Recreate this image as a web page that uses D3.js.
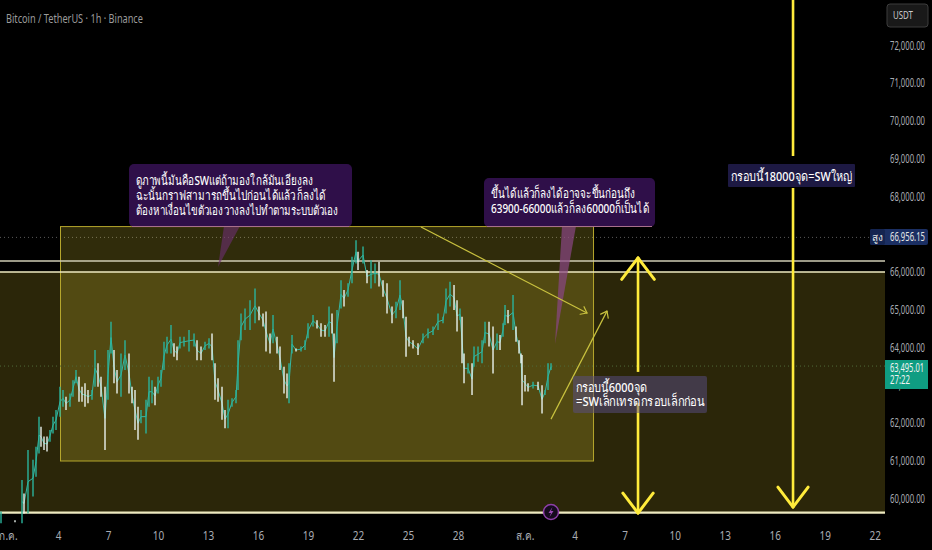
<!DOCTYPE html>
<html lang="th">
<head>
<meta charset="utf-8">
<title>Bitcoin / TetherUS</title>
<script src="https://cdn.jsdelivr.net/npm/d3@7"></script>
<style>
html, body { margin: 0; padding: 0; background: #000; }
svg { display: block; }
text { font-family: "Noto Sans", "Noto Sans CJK SC", sans-serif; }
.axis path, .axis line { display: none; }
.axis text { fill: #a9acb3; font-size: 12.5px; }
</style>
</head>
<body>
<script>
// days counted from 1 Jul = 1, so 1 Aug = 32
let barDay = [0.58,1.42,1.84,1.96,2.2,2.5,2.68,2.86,2.98,3.16,3.34,3.52,3.7,3.88,4.12,4.3,4.48,4.72,4.9,5.08,5.26,5.44,5.62,5.8,6.04,6.22,6.4,6.58,6.82,7,7.18,7.36,7.54,7.78,8.02,8.26,8.44,8.62,8.8,8.98,9.28,9.46,9.64,9.82,10,10.18,10.36,10.54,10.78,10.96,11.14,11.32,11.56,11.86,12.16,12.34,12.58,12.82,13.06,13.24,13.42,13.6,13.84,14.02,14.2,14.44,14.68,14.8,14.98,15.22,15.52,15.82,16.06,16.3,16.48,16.72,16.9,17.14,17.32,17.56,17.74,17.86,18.04,18.28,18.58,18.82,19,19.3,19.54,19.78,20.02,20.26,20.44,20.56,20.74,20.98,21.16,21.4,21.64,21.88,22,22.3,22.54,22.78,23.02,23.26,23.5,23.74,24.04,24.28,24.52,24.7,24.88,25.06,25.3,25.6,25.9,26.2,26.5,26.8,27.1,27.28,27.52,27.76,27.94,28.12,28.24,28.36,28.6,28.84,28.96,29.2,29.44,29.62,29.86,30.1,30.34,30.52,30.7,30.82,31,31.3,31.48,31.66,31.78,31.84,32.02,32.2,32.5,32.8,33.04,33.22,33.4,33.58];
let barHigh = [59640,59410,60480,60120,61270,61010,61360,62150,61890,61630,61630,61800,62150,62330,62950,62860,62680,62770,63120,63390,63210,62950,63040,62860,62860,63920,63570,63210,62950,63920,64670,63920,63390,63830,64180,63830,62950,62860,62420,62330,62600,63210,63120,62950,63210,63390,64140,64270,64580,64100,64010,64270,64270,64450,64360,64180,64010,64140,64230,64360,63570,63170,62950,62330,62600,62640,62860,64180,64890,65020,65240,65550,65070,64890,64940,64360,64850,64270,64010,63480,63300,63570,64320,63960,64010,64180,64630,64850,64710,64630,64580,65070,64890,64360,64980,65770,65510,65690,66390,66830,66520,66660,66040,66300,66210,66260,65770,65690,65070,65200,65770,65240,64800,64270,64180,64100,64360,64490,64540,64890,64800,65550,65730,65640,65240,65020,64800,63830,63570,63570,64010,64010,64180,64670,64670,64540,64360,64320,64630,65110,64980,65380,64540,64180,63830,63790,63260,63040,63080,63080,62990,62860,63570,63570];
let barLow = [59330,59360,59330,59590,59590,60040,60560,61180,61360,61270,61230,61490,61710,61800,62150,62420,62330,62420,62680,63040,62550,62550,62420,62510,62600,62950,62950,62680,61270,62600,63830,63040,62770,62680,63390,62770,62510,61800,61540,61980,61710,62420,62510,62460,62770,62950,63390,63830,63830,63740,63650,63960,64010,63880,64010,63650,63650,63920,63960,63650,62600,62550,62070,61850,61850,62420,62510,62860,64180,64450,64450,64630,64710,64540,63880,63830,64100,63830,63390,62770,62640,62510,63830,63880,63880,63920,64230,64540,64490,64270,64270,64270,64360,63080,64100,65020,65070,65330,65690,66210,66040,66210,65690,65550,65690,65600,65330,64890,64630,64760,64980,64760,63740,64010,63960,63790,64100,64230,64320,64450,64630,64890,65070,64980,64410,64710,63570,63040,63300,62730,63480,63610,63570,64100,64010,63300,63920,63920,64270,64580,64630,64450,64140,63830,63570,62460,62820,62820,62900,62860,62240,62730,62860,63390];

let priceTicks = [72000,71000,70000,69000,68000,67000,66000,65000,64000,63000,62000,61000,60000];
let dayTicks = [1,4,7,10,13,16,19,22,25,28,32,35,38,41,44,47,50,53];
let dayLabels = ["ก.ค.","4","7","10","13","16","19","22","25","28","ส.ค.","4","7","10","13","16","19","22"];

let levelLines = [66280,65990,59610];
let highPrice = 66956.15;
let lastPrice = 63495.01;
let countdown = "27:22";

let w = 932, h = 550;
let plotRight = 885;

let x = d3.scaleLinear().domain([1,53]).range([8,874.7]);
let y = d3.scaleLinear().domain([60000,72000]).range([498,45]);

let svg = d3.select("body").append("svg").attr("width",w).attr("height",h);
svg.append("rect").attr("width",w).attr("height",h).attr("fill","#000");

let defs = svg.append("defs");
defs.append("filter").attr("id","soft").append("feGaussianBlur").attr("stdDeviation",0.35);

// squeeze a text sideways to a wanted width, the chart's font is a narrow one
function fit(node,px,width) {
    let s = width/node.getComputedTextLength();
    d3.select(node).attr("transform","translate("+px+",0) scale("+s+",1) translate("+(-px)+",0)");
}

// big range, dark olive
svg.append("rect")
    .attr("x",0).attr("width",plotRight)
    .attr("y",y(levelLines[1])).attr("height",y(levelLines[2])-y(levelLines[1]))
    .attr("fill","#2b2609");

// dotted guides
svg.append("line").attr("x1",0).attr("x2",870).attr("y1",y(highPrice)+2).attr("y2",y(highPrice)+2)
    .attr("stroke","#5a5a5a").attr("stroke-dasharray","1 3");

// small range box
let boxDays = [4.15,36.13], boxPrices = [67190,60980];
svg.append("rect")
    .attr("x",x(boxDays[0])).attr("width",x(boxDays[1])-x(boxDays[0]))
    .attr("y",y(boxPrices[0])).attr("height",y(boxPrices[1])-y(boxPrices[0]))
    .attr("fill","rgba(255,235,59,0.19)").attr("stroke","#b5a62c").attr("stroke-width",1);

svg.append("line").attr("x1",0).attr("x2",plotRight).attr("y1",y(lastPrice)).attr("y2",y(lastPrice))
    .attr("stroke","#4f6b3a").attr("stroke-dasharray","1 3");

// level lines
svg.selectAll(".level").data(levelLines).enter().append("line")
    .attr("class","level")
    .attr("x1",0).attr("x2",plotRight)
    .attr("y1",d=>y(d)).attr("y2",d=>y(d))
    .attr("stroke",(d,i)=> i==0 ? "#cfcdb4" : "#eeeac0")
    .attr("stroke-width",(d,i)=> i==2 ? 2.2 : 1.5);

// callout wedges, then boxes
svg.append("path").attr("d","M224,226L240,226L218,267Z").attr("fill","#6d2f72").attr("opacity",0.6);
svg.append("path").attr("d","M562,226L576,226L555,344Z").attr("fill","#8a4684").attr("opacity",0.7);

function callout(x0,y0,bw,bh,fill) {
    svg.append("rect").attr("x",x0).attr("y",y0).attr("width",bw).attr("height",bh).attr("rx",5).attr("fill",fill);
    svg.append("line").attr("x1",x0+3).attr("x2",x0+bw-3).attr("y1",y0+bh-0.5).attr("y2",y0+bh-0.5)
        .attr("stroke","#a8708c").attr("stroke-width",1);
}
callout(129,164,223,63,"#2f0f49");
callout(484,178,171,49,"#2f0f49");

// candles
let bars = barDay.map((d,i)=> ({day:d, hi:barHigh[i], lo:barLow[i]}));
let mid = d => (d.hi+d.lo)/2;
let candles = svg.append("g").attr("filter","url(#soft)");
candles.append("path").attr("fill","none").attr("stroke","#35b8a4").attr("stroke-width",1)
    .attr("d",d3.line().x(d=>x(d.day)).y(d=>y(mid(d)))(bars.slice(2)));
candles.selectAll("line").data(bars).enter().append("line")
    .attr("x1",d=>x(d.day)).attr("x2",d=>x(d.day))
    .attr("y1",d=>y(d.hi)).attr("y2",d=>y(d.lo))
    .attr("stroke",(d,i)=> (i==0 || mid(d)>=mid(bars[i-1])) ? "#2bb39c" : "#eaf3ee")
    .attr("stroke-width",1.4);

// thin diagonal arrows
let diagArrows = [
    {d0:25.78,p0:67180,d1:35.74,p1:64900},
    {d0:33.58,p0:62090,d1:36.94,p1:64950}
];
function head(px,py,fromx,fromy,len,spread,color,sw) {
    let a = Math.atan2(fromy-py,fromx-px);
    [a-spread,a+spread].forEach(t=>{
        svg.append("line").attr("x1",px).attr("y1",py)
            .attr("x2",px+len*Math.cos(t)).attr("y2",py+len*Math.sin(t))
            .attr("stroke",color).attr("stroke-width",sw).attr("stroke-linecap","round");
    });
}
diagArrows.forEach(a=>{
    svg.append("line").attr("x1",x(a.d0)).attr("y1",y(a.p0)).attr("x2",x(a.d1)).attr("y2",y(a.p1))
        .attr("stroke","#c9c23f").attr("stroke-width",1.2);
    head(x(a.d1),y(a.p1),x(a.d0),y(a.p0),7,0.65,"#c9c23f",1.2);
});

// thick vertical arrows, each broken behind its label
let yellow = "#ffeb3b";
let v1 = {day:38.8, top:66360, bottom:59600, gap:[63340,62520]};
let v2 = {day:48.1, top:73500, bottom:59760, gap:[69060,68210]};
[v1,v2].forEach(v=>{
    [[v.top,v.gap[0]],[v.gap[1],v.bottom]].forEach(s=>{
        svg.append("line").attr("x1",x(v.day)).attr("x2",x(v.day))
            .attr("y1",y(s[0])).attr("y2",y(s[1]))
            .attr("stroke",yellow).attr("stroke-width",2.6);
    });
    head(x(v.day),y(v.bottom),x(v.day),0,25,0.65,yellow,3);
});
head(x(v1.day),y(v1.top),x(v1.day),h,27,0.65,yellow,3);

// labels
svg.append("rect").attr("x",573).attr("y",376).attr("width",134).attr("height",37).attr("rx",2)
    .attr("fill","rgba(90,78,135,0.5)");
svg.append("rect").attr("x",728).attr("y",164).attr("width",127).attr("height",23).attr("rx",1)
    .attr("fill","#1d1943");

let notes = [
    {t:"ดูภาพนี้มันคือSWแต่ถ้ามองใกล้มันเอียงลง", x:136, y:185, len:176},
    {t:"ฉะนั้นกราฟสามารถขึ้นไปก่อนได้แล้วก็ลงได้", x:136, y:200, len:188},
    {t:"ต้องหาเงื่อนไขตัวเองวางลงไปทำตามระบบตัวเอง", x:136, y:215, len:200},
    {t:"ขึ้นได้แล้วก็ลงได้อาจจะขึ้นก่อนถึง", x:491, y:198, len:144},
    {t:"63900-66000แล้วก็ลง60000ก็เป็นได้", x:491, y:213, len:157},
    {t:"กรอบนี้6000จุด", x:576, y:392, len:72},
    {t:"=SWเล็กเทรดกรอบเล็กก่อน", x:576, y:406, len:130},
    {t:"กรอบนี้18000จุด=SWใหญ่", x:731, y:181, len:122}
];
svg.selectAll(".note").data(notes).enter().append("text")
    .attr("class","note")
    .attr("x",d=>d.x).attr("y",d=>d.y)
    .attr("font-size",13).attr("font-weight",500).attr("fill","#fff")
    .text(d=>d.t)
    .each(function(d) { fit(this,d.x,d.len); });

// axes
let yAxis = d3.axisRight(y).tickValues(priceTicks).tickSize(0).tickPadding(0)
    .tickFormat(d=>d3.format(",.2f")(d));
svg.append("g").attr("class","axis").attr("transform","translate(890,0)").call(yAxis)
    .selectAll("text").attr("x",0).each(function() { fit(this,0,35); });

let xAxis = d3.axisBottom(x).tickValues(dayTicks).tickSize(0).tickPadding(0)
    .tickFormat((d,i)=>dayLabels[i]);
svg.append("g").attr("class","axis").attr("transform","translate(0,531)").call(xAxis)
    .selectAll("text").attr("transform","scale(0.8,1)").attr("x",0);

// plain texts on top: title and price tags
function label(t,px,py,size,fill,width) {
    svg.append("text").attr("x",px).attr("y",py).attr("font-size",size).attr("fill",fill)
        .text(t).each(function() { fit(this,px,width); });
}
label("Bitcoin / TetherUS · 1h · Binance",6,23,13,"#9b9b9b",137);

svg.append("rect").attr("x",887).attr("y",4).attr("width",41).attr("height",23).attr("rx",3)
    .attr("fill","#191919").attr("stroke","#3d3d3d");
label("USDT",893,19,11,"#ccc",20);

svg.append("rect").attr("x",870).attr("y",229).attr("width",58).attr("height",16).attr("rx",2).attr("fill","#1b2f63");
svg.append("rect").attr("x",870).attr("y",229).attr("width",15).attr("height",16).attr("rx",2).attr("fill","#142450");
svg.append("text").attr("x",872).attr("y",241).attr("font-size",10).attr("fill","#e6e6e6").text("สูง");
label(d3.format(",.2f")(highPrice),890,241,12.5,"#e6e6e6",35);

svg.append("rect").attr("x",885).attr("y",360).attr("width",43).attr("height",29).attr("fill","#0f9d82");
label(d3.format(",.2f")(lastPrice),890,372,12.5,"#f2f2f2",34);
label(countdown,890,384,12.5,"#f2f2f2",20);

// lightning marker on the time axis
svg.append("circle").attr("cx",551).attr("cy",512).attr("r",7.5)
    .attr("fill","#160b1e").attr("stroke","#8d3fa8").attr("stroke-width",1.5);
svg.append("path").attr("d","M552.5,507L548.5,513L551,513L549.5,517L553.5,511L551,511Z").attr("fill","#9a49b5");
</script>
</body>
</html>
